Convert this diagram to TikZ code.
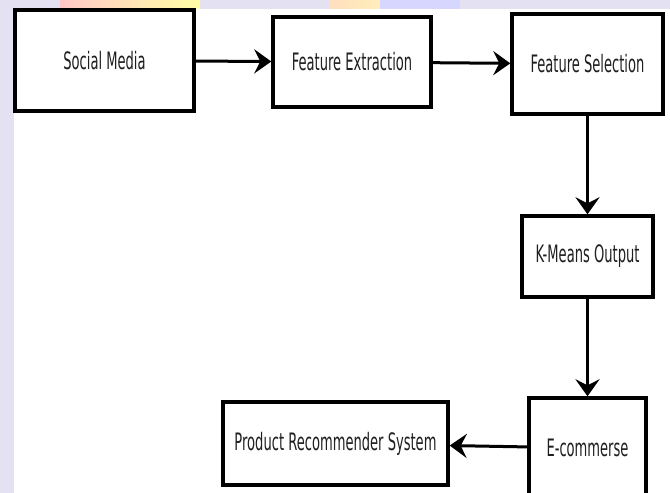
\documentclass[tikz,border=0pt]{standalone}
\usepackage{fontspec}
\newfontfamily\boxfont[FakeStretch=0.545]{DejaVu Sans}
\usetikzlibrary{arrows.meta}

\begin{document}
\begin{tikzpicture}[x=1pt,y=-1pt,
  stagebox/.style={draw=black,line width=3.4pt,fill=white,inner sep=0pt,
    font=\boxfont\fontsize{24}{27}\selectfont,text=black!88},
  flow/.style={line width=3pt,-{Stealth[length=17pt,width=24pt,inset=6pt]}}]
\useasboundingbox (0,0) rectangle (670,493);
% faint page background behind the figure
\fill[cyan!8!blue!10] (0,0) rectangle (670,493);
\fill[left color=red!22,right color=yellow!35] (60,0) rectangle (200,10);
\fill[left color=orange!25,right color=yellow!30] (330,0) rectangle (440,10);
\fill[blue!16] (380,0) rectangle (460,10);
\fill[white] (14,9) rectangle (670,493);
\begin{scope}
\clip (0,0) rectangle (670,493);
\node[stagebox,minimum width=179pt,minimum height=101pt] (social) at (104.5,60.5) {Social Media};
\node[stagebox,minimum width=158pt,minimum height=90pt] (extract) at (352,62) {Feature Extraction};
\node[stagebox,minimum width=151pt,minimum height=100pt] (select) at (587.5,64) {Feature Selection};
\node[stagebox,minimum width=131pt,minimum height=81pt] (kmeans) at (587.5,256.5) {K-Means Output};
\node[stagebox,minimum width=117pt,minimum height=100pt] (ecom) at (587.5,448) {E-commerse};
\node[stagebox,minimum width=225pt,minimum height=83pt] (product) at (335.5,443.5) {Product Recommender System};
\end{scope}
\draw[flow] (social) -- (extract);
\draw[flow] (extract) -- (select);
\draw[flow] (select) -- (kmeans);
\draw[flow] (kmeans) -- (ecom);
\draw[flow] (ecom) -- (product);
\end{tikzpicture}
\end{document}
